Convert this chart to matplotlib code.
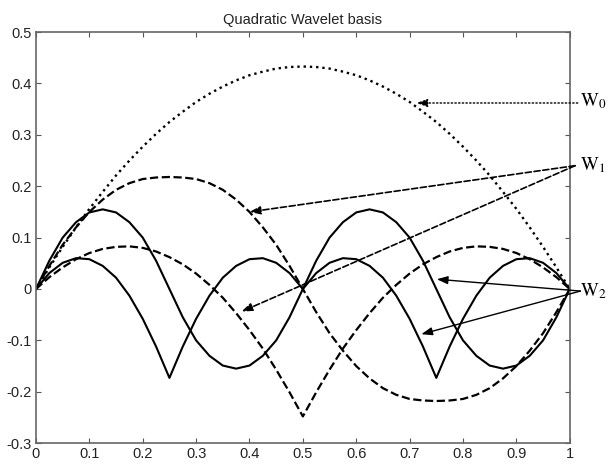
import matplotlib.pyplot as plt

plt.rcParams['font.family'] = ['Liberation Sans', 'DejaVu Sans']
plt.rcParams['mathtext.fontset'] = 'stix'
plt.rcParams['axes.unicode_minus'] = False

# sample positions (read every 0.025 along x)
x = [0.000, 0.025, 0.050, 0.075, 0.100, 0.125, 0.150, 0.175, 0.200, 0.225,
     0.250, 0.275, 0.300, 0.325, 0.350, 0.375, 0.400, 0.425, 0.450, 0.475,
     0.500, 0.525, 0.550, 0.575, 0.600, 0.625, 0.650, 0.675, 0.700, 0.725,
     0.750, 0.775, 0.800, 0.825, 0.850, 0.875, 0.900, 0.925, 0.950, 0.975,
     1.000]

# W0 (dotted arch)
w0 = [0, 0.042, 0.082, 0.120, 0.156, 0.189, 0.221, 0.250, 0.277, 0.302,
      0.325, 0.345, 0.364, 0.380, 0.394, 0.406, 0.416, 0.423, 0.429, 0.432,
      0.433, 0.432, 0.429, 0.423, 0.416, 0.406, 0.394, 0.380, 0.364, 0.345,
      0.325, 0.302, 0.277, 0.250, 0.221, 0.189, 0.156, 0.120, 0.082, 0.042,
      0]

# W1 (dashed, two functions)
w1a = [0, 0.045, 0.086, 0.120, 0.150, 0.174, 0.193, 0.206, 0.214, 0.217,
       0.218, 0.217, 0.214, 0.206, 0.193, 0.174, 0.150, 0.120, 0.086, 0.045,
       0, -0.045, -0.086, -0.120, -0.150, -0.174, -0.193, -0.206, -0.214, -0.217,
       -0.218, -0.217, -0.214, -0.206, -0.193, -0.174, -0.150, -0.120, -0.086, -0.045,
       0]
w1b = [0, 0.023, 0.042, 0.058, 0.070, 0.078, 0.082, 0.083, 0.080, 0.073,
       0.062, 0.048, 0.030, 0.008, -0.017, -0.047, -0.080, -0.116, -0.157, -0.201,
       -0.248, -0.201, -0.157, -0.116, -0.080, -0.047, -0.017, 0.008, 0.030, 0.048,
       0.062, 0.073, 0.080, 0.083, 0.082, 0.078, 0.070, 0.058, 0.042, 0.023,
       0]

# W2 (solid, two functions)
w2a = [0, 0.031, 0.051, 0.060, 0.058, 0.045, 0.022, -0.013, -0.058, -0.112,
       -0.173, -0.112, -0.058, -0.013, 0.022, 0.045, 0.058, 0.060, 0.051, 0.031,
       0, 0.031, 0.051, 0.060, 0.058, 0.045, 0.022, -0.013, -0.058, -0.112,
       -0.173, -0.112, -0.058, -0.013, 0.022, 0.045, 0.058, 0.060, 0.051, 0.031,
       0]
w2b = [0, 0.055, 0.100, 0.130, 0.149, 0.155, 0.149, 0.130, 0.100, 0.055,
       0, -0.055, -0.100, -0.130, -0.149, -0.155, -0.149, -0.130, -0.100, -0.055,
       0, 0.055, 0.100, 0.130, 0.149, 0.155, 0.149, 0.130, 0.100, 0.055,
       0, -0.055, -0.100, -0.130, -0.149, -0.155, -0.149, -0.130, -0.100, -0.055,
       0]

xticks = [0, 0.1, 0.2, 0.3, 0.4, 0.5, 0.6, 0.7, 0.8, 0.9, 1]
xticklabels = ['0', '0.1', '0.2', '0.3', '0.4', '0.5', '0.6', '0.7', '0.8', '0.9', '1']
yticks = [-0.3, -0.2, -0.1, 0, 0.1, 0.2, 0.3, 0.4, 0.5]
yticklabels = ['-0.3', '-0.2', '-0.1', '0', '0.1', '0.2', '0.3', '0.4', '0.5']

fig = plt.figure(figsize=(6.1, 4.65), dpi=100)
ax = fig.add_axes([0.059, 0.047, 0.875, 0.884])

ax.plot(x, w0, color='black', linestyle=':', linewidth=1.7)
ax.plot(x, w1a, color='black', linestyle='--', linewidth=1.6)
ax.plot(x, w1b, color='black', linestyle='--', linewidth=1.6)
ax.plot(x, w2a, color='black', linestyle='-', linewidth=1.5)
ax.plot(x, w2b, color='black', linestyle='-', linewidth=1.5)

ax.set_xlim(0, 1)
ax.set_ylim(-0.3, 0.5)
ax.set_xticks(xticks)
ax.set_xticklabels(xticklabels)
ax.set_yticks(yticks)
ax.set_yticklabels(yticklabels)
ax.tick_params(direction='in', length=3.5, top=True, right=True,
               labelsize=10.5, colors='#555555', labelcolor='#222222', pad=3)
for s in ax.spines.values():
    s.set_color('#666666')
    s.set_linewidth(1.2)

ax.set_title('Quadratic Wavelet basis', fontsize=10.5, color='#222222', pad=6)

# annotation arrows
def arrow(start, tip, ls, lw):
    ax.annotate('', xy=tip, xytext=start, annotation_clip=False,
                arrowprops=dict(arrowstyle='-|>,head_length=0.65,head_width=0.24',
                                color='black', linestyle=ls, linewidth=lw,
                                shrinkA=0, shrinkB=0))

arrow((1.015, 0.362), (0.713, 0.362), ':', 1.0)
arrow((1.01, 0.240), (0.400, 0.150), '--', 1.2)
arrow((1.01, 0.240), (0.385, -0.044), '--', 1.2)
arrow((1.02, -0.004), (0.751, 0.019), '-', 1.0)
arrow((1.02, -0.004), (0.722, -0.088), '-', 1.0)

label_x = 1.019
ax.text(label_x, 0.365, r'$\mathrm{W}_0$', fontsize=13.5, ha='left', va='center', clip_on=False)
ax.text(label_x, 0.242, r'$\mathrm{W}_1$', fontsize=13.5, ha='left', va='center', clip_on=False)
ax.text(label_x, -0.005, r'$\mathrm{W}_2$', fontsize=13.5, ha='left', va='center', clip_on=False)

fig.savefig('out.png', dpi=100)
